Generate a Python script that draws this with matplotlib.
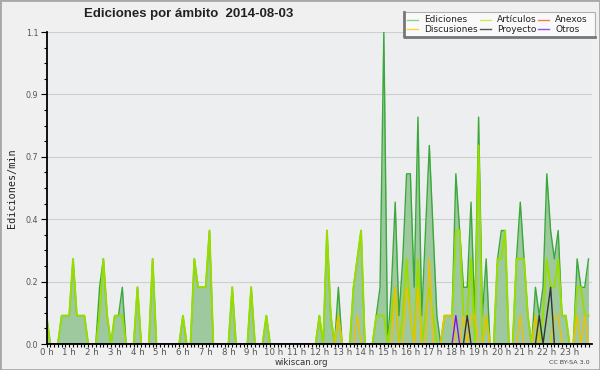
import matplotlib
matplotlib.use("Agg")
import matplotlib.pyplot as plt
from matplotlib.lines import Line2D
from matplotlib.patches import Rectangle
import numpy as np

# edits per minute, one value every 10 minutes (00:00 .. 23:50)
ediciones = [
    0.1, 0.0, 0.0, 0.0, 0.1, 0.1, 0.1, 0.3, 0.1, 0.1, 0.1, 0.0,
    0.0, 0.0, 0.2, 0.3, 0.1, 0.0, 0.1, 0.1, 0.2, 0.0, 0.0, 0.0,
    0.2, 0.0, 0.0, 0.0, 0.3, 0.0, 0.0, 0.0, 0.0, 0.0, 0.0, 0.0,
    0.1, 0.0, 0.0, 0.3, 0.2, 0.2, 0.2, 0.4, 0.0, 0.0, 0.0, 0.0,
    0.0, 0.2, 0.0, 0.0, 0.0, 0.0, 0.2, 0.0, 0.0, 0.0, 0.1, 0.0,
    0.0, 0.0, 0.0, 0.0, 0.0, 0.0, 0.0, 0.0, 0.0, 0.0, 0.0, 0.0,
    0.1, 0.0, 0.4, 0.1, 0.0, 0.2, 0.0, 0.0, 0.0, 0.2, 0.3, 0.4,
    0.0, 0.0, 0.0, 0.1, 0.2, 1.1, 0.0, 0.2, 0.5, 0.1, 0.3, 0.6,
    0.6, 0.2, 0.8, 0.1, 0.4, 0.7, 0.4, 0.1, 0.0, 0.1, 0.1, 0.1,
    0.6, 0.4, 0.2, 0.2, 0.5, 0.1, 0.8, 0.1, 0.3, 0.0, 0.0, 0.3,
    0.4, 0.4, 0.0, 0.0, 0.3, 0.5, 0.3, 0.1, 0.0, 0.2, 0.1, 0.2,
    0.6, 0.4, 0.3, 0.4, 0.1, 0.1, 0.0, 0.0, 0.3, 0.2, 0.2, 0.3,
]
articulos = [
    0.1, 0.0, 0.0, 0.0, 0.1, 0.1, 0.1, 0.3, 0.1, 0.1, 0.1, 0.0,
    0.0, 0.0, 0.1, 0.3, 0.1, 0.0, 0.1, 0.1, 0.1, 0.0, 0.0, 0.0,
    0.2, 0.0, 0.0, 0.0, 0.3, 0.0, 0.0, 0.0, 0.0, 0.0, 0.0, 0.0,
    0.1, 0.0, 0.0, 0.3, 0.2, 0.2, 0.2, 0.4, 0.0, 0.0, 0.0, 0.0,
    0.0, 0.2, 0.0, 0.0, 0.0, 0.0, 0.2, 0.0, 0.0, 0.0, 0.1, 0.0,
    0.0, 0.0, 0.0, 0.0, 0.0, 0.0, 0.0, 0.0, 0.0, 0.0, 0.0, 0.0,
    0.1, 0.0, 0.4, 0.1, 0.0, 0.1, 0.0, 0.0, 0.0, 0.2, 0.3, 0.4,
    0.0, 0.0, 0.0, 0.1, 0.1, 0.1, 0.0, 0.1, 0.2, 0.0, 0.1, 0.3,
    0.1, 0.0, 0.3, 0.0, 0.1, 0.2, 0.1, 0.0, 0.0, 0.1, 0.1, 0.1,
    0.4, 0.4, 0.1, 0.1, 0.3, 0.0, 0.7, 0.0, 0.1, 0.0, 0.0, 0.3,
    0.3, 0.4, 0.0, 0.0, 0.3, 0.3, 0.3, 0.1, 0.0, 0.1, 0.0, 0.1,
    0.3, 0.2, 0.2, 0.3, 0.1, 0.1, 0.0, 0.0, 0.2, 0.2, 0.1, 0.1,
]
discusiones = [
    0.0, 0.0, 0.0, 0.0, 0.0, 0.0, 0.0, 0.0, 0.0, 0.0, 0.0, 0.0,
    0.0, 0.0, 0.0, 0.0, 0.0, 0.0, 0.0, 0.0, 0.0, 0.0, 0.0, 0.0,
    0.0, 0.0, 0.0, 0.0, 0.0, 0.0, 0.0, 0.0, 0.0, 0.0, 0.0, 0.0,
    0.0, 0.0, 0.0, 0.0, 0.0, 0.0, 0.0, 0.0, 0.0, 0.0, 0.0, 0.0,
    0.0, 0.0, 0.0, 0.0, 0.0, 0.0, 0.0, 0.0, 0.0, 0.0, 0.0, 0.0,
    0.0, 0.0, 0.0, 0.0, 0.0, 0.0, 0.0, 0.0, 0.0, 0.0, 0.0, 0.0,
    0.0, 0.0, 0.0, 0.0, 0.0, 0.1, 0.0, 0.0, 0.0, 0.0, 0.1, 0.0,
    0.0, 0.0, 0.0, 0.0, 0.0, 0.0, 0.0, 0.0, 0.2, 0.0, 0.0, 0.2,
    0.1, 0.0, 0.2, 0.0, 0.0, 0.3, 0.0, 0.0, 0.0, 0.1, 0.1, 0.1,
    0.0, 0.0, 0.1, 0.0, 0.1, 0.1, 0.0, 0.0, 0.1, 0.0, 0.0, 0.0,
    0.0, 0.0, 0.0, 0.0, 0.0, 0.1, 0.0, 0.0, 0.0, 0.1, 0.0, 0.0,
    0.0, 0.0, 0.1, 0.1, 0.0, 0.0, 0.0, 0.0, 0.1, 0.0, 0.1, 0.0,
]
proyecto = [
    0.0, 0.0, 0.0, 0.0, 0.0, 0.0, 0.0, 0.0, 0.0, 0.0, 0.0, 0.0,
    0.0, 0.0, 0.0, 0.0, 0.0, 0.0, 0.0, 0.0, 0.0, 0.0, 0.0, 0.0,
    0.0, 0.0, 0.0, 0.0, 0.0, 0.0, 0.0, 0.0, 0.0, 0.0, 0.0, 0.0,
    0.0, 0.0, 0.0, 0.0, 0.0, 0.0, 0.0, 0.0, 0.0, 0.0, 0.0, 0.0,
    0.0, 0.0, 0.0, 0.0, 0.0, 0.0, 0.0, 0.0, 0.0, 0.0, 0.0, 0.0,
    0.0, 0.0, 0.0, 0.0, 0.0, 0.0, 0.0, 0.0, 0.0, 0.0, 0.0, 0.0,
    0.0, 0.0, 0.0, 0.0, 0.0, 0.0, 0.0, 0.0, 0.0, 0.0, 0.0, 0.0,
    0.0, 0.0, 0.0, 0.0, 0.0, 0.0, 0.0, 0.0, 0.0, 0.0, 0.0, 0.0,
    0.0, 0.0, 0.0, 0.0, 0.0, 0.0, 0.0, 0.0, 0.0, 0.0, 0.0, 0.0,
    0.0, 0.0, 0.0, 0.1, 0.0, 0.0, 0.0, 0.0, 0.0, 0.0, 0.0, 0.0,
    0.0, 0.0, 0.0, 0.0, 0.0, 0.0, 0.0, 0.0, 0.0, 0.0, 0.1, 0.0,
    0.1, 0.2, 0.0, 0.0, 0.0, 0.0, 0.0, 0.0, 0.0, 0.0, 0.0, 0.0,
]
anexos = [
    0.0, 0.0, 0.0, 0.0, 0.0, 0.0, 0.0, 0.0, 0.0, 0.0, 0.0, 0.0,
    0.0, 0.0, 0.0, 0.0, 0.0, 0.0, 0.0, 0.0, 0.0, 0.0, 0.0, 0.0,
    0.0, 0.0, 0.0, 0.0, 0.0, 0.0, 0.0, 0.0, 0.0, 0.0, 0.0, 0.0,
    0.0, 0.0, 0.0, 0.0, 0.0, 0.0, 0.0, 0.0, 0.0, 0.0, 0.0, 0.0,
    0.0, 0.0, 0.0, 0.0, 0.0, 0.0, 0.0, 0.0, 0.0, 0.0, 0.0, 0.0,
    0.0, 0.0, 0.0, 0.0, 0.0, 0.0, 0.0, 0.0, 0.0, 0.0, 0.0, 0.0,
    0.0, 0.0, 0.0, 0.0, 0.0, 0.0, 0.0, 0.0, 0.0, 0.0, 0.0, 0.0,
    0.0, 0.0, 0.0, 0.0, 0.0, 0.0, 0.0, 0.0, 0.0, 0.0, 0.0, 0.0,
    0.0, 0.0, 0.0, 0.0, 0.0, 0.0, 0.0, 0.0, 0.0, 0.0, 0.0, 0.0,
    0.0, 0.0, 0.0, 0.0, 0.0, 0.0, 0.0, 0.0, 0.0, 0.0, 0.0, 0.0,
    0.0, 0.0, 0.0, 0.0, 0.0, 0.0, 0.0, 0.0, 0.0, 0.0, 0.0, 0.0,
    0.0, 0.0, 0.0, 0.0, 0.0, 0.0, 0.0, 0.0, 0.0, 0.0, 0.0, 0.0,
]
otros = [
    0.0, 0.0, 0.0, 0.0, 0.0, 0.0, 0.0, 0.0, 0.0, 0.0, 0.0, 0.0,
    0.0, 0.0, 0.0, 0.0, 0.0, 0.0, 0.0, 0.0, 0.0, 0.0, 0.0, 0.0,
    0.0, 0.0, 0.0, 0.0, 0.0, 0.0, 0.0, 0.0, 0.0, 0.0, 0.0, 0.0,
    0.0, 0.0, 0.0, 0.0, 0.0, 0.0, 0.0, 0.0, 0.0, 0.0, 0.0, 0.0,
    0.0, 0.0, 0.0, 0.0, 0.0, 0.0, 0.0, 0.0, 0.0, 0.0, 0.0, 0.0,
    0.0, 0.0, 0.0, 0.0, 0.0, 0.0, 0.0, 0.0, 0.0, 0.0, 0.0, 0.0,
    0.0, 0.0, 0.0, 0.0, 0.0, 0.0, 0.0, 0.0, 0.0, 0.0, 0.0, 0.0,
    0.0, 0.0, 0.0, 0.0, 0.0, 0.0, 0.0, 0.0, 0.0, 0.0, 0.0, 0.0,
    0.0, 0.0, 0.0, 0.0, 0.0, 0.0, 0.0, 0.0, 0.0, 0.0, 0.0, 0.0,
    0.1, 0.0, 0.0, 0.0, 0.0, 0.0, 0.0, 0.0, 0.0, 0.0, 0.0, 0.0,
    0.0, 0.0, 0.0, 0.0, 0.0, 0.0, 0.0, 0.0, 0.0, 0.0, 0.0, 0.0,
    0.0, 0.0, 0.0, 0.0, 0.0, 0.0, 0.0, 0.0, 0.0, 0.0, 0.0, 0.0,
]

hour_labels = [f"{h} h" for h in range(24)]
y_ticks = [0.0, 0.22, 0.44, 0.66, 0.88, 1.1]

# x position of each sample, in hours
hours = np.arange(len(ediciones)) / 6.0

W, H = 600, 370
fig = plt.figure(figsize=(6, 3.7), dpi=100, facecolor="#f0f0f0")
ax = fig.add_axes([46.5 / W, 26 / H, 545.8 / W, 312 / H])
ax.set_facecolor("#eceef0")

# series
ax.fill_between(hours, ediciones, color="#9ec99e", lw=0, zorder=1)
ax.plot(hours, ediciones, color="#3aa83a", lw=1.0, zorder=2)
ax.plot(hours, articulos, color="#99dd00", lw=1.4, zorder=2)
ax.plot(hours, discusiones, color="#f0c000", lw=1.0, zorder=2)
ax.plot(hours, anexos, color="#f07040", lw=1.0, zorder=2)
ax.plot(hours, proyecto, color="#333333", lw=1.0, zorder=2)
ax.plot(hours, otros, color="#8a10e0", lw=1.0, zorder=2)

ax.set_xlim(0, 24)
ax.set_ylim(0, 1.1)

ax.set_yticks(y_ticks)
ax.set_yticklabels([f"{v:.1f}" for v in y_ticks])
ax.set_yticks(np.arange(0, 1.1001, 0.055), minor=True)
ax.set_xticks(range(24))
ax.set_xticklabels(hour_labels)
ax.set_xticks(np.arange(0, 24, 1 / 6), minor=True)

ax.tick_params(axis="y", which="major", length=4, width=0.8, pad=2,
               labelsize=5.8, labelcolor="#555555")
ax.tick_params(axis="y", which="minor", length=2.5, width=0.8)
ax.tick_params(axis="x", which="major", length=2.5, width=0.8, pad=0.5,
               labelsize=6.2, labelcolor="#555555")
ax.tick_params(axis="x", which="minor", length=2.5, width=0.8)

ax.grid(axis="y", which="major", color="#cfcfcf", lw=0.8)
ax.set_axisbelow(True)
for s in ("top", "right"):
    ax.spines[s].set_visible(False)
for s in ("left", "bottom"):
    ax.spines[s].set_linewidth(1.3)

ax.set_ylabel("Ediciones/min", family="DejaVu Sans Mono", fontsize=7.3,
              color="#222222", labelpad=6)

fig.text(188.5 / W, 1 - 14 / H, "Ediciones por ámbito  2014-08-03",
         ha="center", va="center", fontsize=9.5, fontweight="bold",
         family=["Liberation Sans", "DejaVu Sans"], color="#222222")
fig.text(301 / W, 1 - 362.5 / H, "wikiscan.org", ha="center", va="center",
         fontsize=6.2, color="#333333")
fig.text(590 / W, 1 - 362.5 / H, "CC BY-SA 3.0", ha="right", va="center",
         fontsize=4.6, color="#444444")

# legend box
fig.add_artist(Rectangle((404 / W, 1 - 37 / H), 191 / W, 25 / H, transform=fig.transFigure,
                         facecolor="#f9f9f9", edgecolor="#b0b0b0", lw=0.8))
fig.add_artist(Line2D([404 / W, 404 / W, 595 / W], [1 - 12 / H, 1 - 37 / H, 1 - 37 / H],
                      transform=fig.transFigure, color="#777777", lw=2))

legend_items = [
    ("Ediciones", "#8fd08f", 0, 0), ("Artículos", "#ccee55", 1, 0), ("Anexos", "#f08050", 2, 0),
    ("Discusiones", "#ffd040", 0, 1), ("Proyecto", "#555555", 1, 1), ("Otros", "#9950ee", 2, 1),
]
col_x = [407, 480, 538]
row_y = [19.5, 29.3]
for label, color, c, r in legend_items:
    x0, y0 = col_x[c], row_y[r]
    fig.add_artist(Line2D([x0 / W, (x0 + 11) / W], [1 - y0 / H, 1 - y0 / H],
                          transform=fig.transFigure, color=color, lw=1))
    fig.text((x0 + 17) / W, 1 - y0 / H, label, ha="left", va="center",
             fontsize=6.5, color="#222222")

# outer frame
fig.add_artist(Rectangle((0, 0), 1, 1, transform=fig.transFigure, fill=False,
                         edgecolor="#a8a8a8", lw=2))

fig.savefig("out.png", dpi=100, facecolor=fig.get_facecolor())
